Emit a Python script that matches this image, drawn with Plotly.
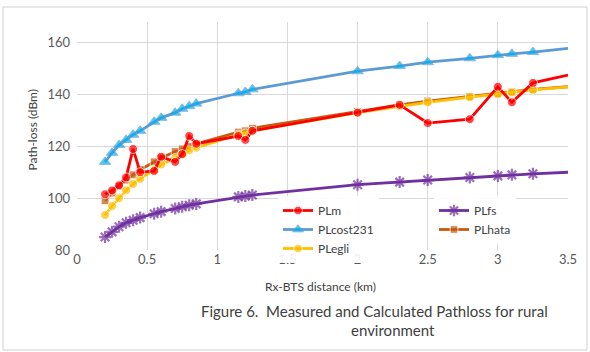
import plotly.graph_objects as go

distance_km = [0.2, 0.25, 0.3, 0.35, 0.4, 0.45, 0.55, 0.6, 0.7, 0.75, 0.8, 0.85,
               1.15, 1.2, 1.25, 2.0, 2.3, 2.5, 2.8, 3.0, 3.1, 3.25, 3.5]

pl_m = [101.5, 103, 105, 108, 119, 110, 110.5, 116, 114, 117, 124, 121,
        124, 122.5, 126, 133, 136, 129, 130.5, 143, 137, 144.5, 147.5]
pl_fs = [85, 87, 89, 90.5, 91.5, 92.5, 94, 94.8, 96, 96.7, 97.3, 97.8,
         100.5, 100.8, 101.2, 105.2, 106.2, 107, 108, 108.6, 109, 109.4, 110]
pl_cost231 = [114, 117.5, 120.5, 122.5, 124.5, 126, 129.5, 131, 133, 134.5, 135.5, 136.5,
              140.5, 141, 142, 149, 151, 152.5, 154, 155.2, 155.7, 156.4, 157.8]
pl_hata = [99, 102, 104.5, 107, 109, 111, 114, 115.5, 118, 119, 120, 121,
           125.5, 126, 127, 133.5, 136, 137.5, 139.3, 140.3, 141, 142, 143]
pl_egli = [93.5, 97, 100, 103, 105.5, 107.5, 111, 113, 115.5, 117, 118.5, 119.5,
           124.5, 125, 126, 133, 135.5, 137, 139, 140.2, 140.8, 141.8, 143]

x_ticks = [0, 0.5, 1, 1.5, 2, 2.5, 3, 3.5]
x_tick_labels = ["0", "0.5", "1", "1.5", "2", "2.5", "3", "3.5"]
y_ticks = [80, 100, 120, 140, 160]

FONT = "Lato"
n = len(distance_km)
msize = lambda s: [s] * (n - 1) + [0]

fig = go.Figure()

def add(name, y, line_color, marker_color, symbol, size, legend, rank, mline=None):
    marker = dict(color=marker_color, symbol=symbol, size=msize(size))
    if mline:
        marker["line"] = mline
    fig.add_trace(go.Scatter(
        x=distance_km, y=y, name=name, mode="lines+markers",
        line=dict(color=line_color, width=2.8),
        marker=marker, legend=legend, legendrank=rank,
    ))

add("PLcost231", pl_cost231, "#5B9BD5", "#00B0F0", "triangle-up", 10, "legend", 2)
add("PLfs", pl_fs, "#7030A0", "#7030A0", "asterisk-open", 10, "legend2", 1,
    mline=dict(color="#7030A0", width=2.2))
add("PLhata", pl_hata, "#C55A11", "#C55A11", "square", 8, "legend2", 2)
add("PLegli", pl_egli, "#FFC000", "#FFC000", "circle", 9, "legend", 3)
add("PLm", pl_m, "#FF0000", "#FF0000", "circle", 9, "legend", 1)

L, R, T, B = 77, 22, 22, 102
PW = 590 - L - R
PH = 352 - T - B
px = lambda v: (v - L) / PW
py = lambda v: (352 - B - v) / PH

legend_common = dict(
    font=dict(family=FONT, size=12, color="#404040"),
    bgcolor="rgba(255,255,255,0.9)", borderwidth=0,
    yanchor="top", xanchor="left", tracegroupgap=0,
    itemwidth=30, traceorder="normal",
)

fig.update_layout(
    width=590, height=352,
    margin=dict(l=L, r=R, t=T, b=B),
    paper_bgcolor="white", plot_bgcolor="white",
    font=dict(family=FONT, color="#595959"),
    legend=dict(x=px(278), y=py(196), **legend_common),
    legend2=dict(x=px(434), y=py(196), **legend_common),
    xaxis=dict(
        range=[0, 3.5], tickvals=x_ticks, ticktext=x_tick_labels,
        showgrid=True, gridcolor="#D9D9D9", gridwidth=1,
        zeroline=False, showline=False, ticks="",
        tickfont=dict(family=FONT, size=13, color="#595959"),
    ),
    yaxis=dict(
        range=[80, 168], tickvals=y_ticks,
        showgrid=True, gridcolor="#D9D9D9", gridwidth=1,
        zeroline=False, showline=False, ticks="",
        tickfont=dict(family=FONT, size=13, color="#595959"),
        ticklabelstandoff=6,
    ),
    showlegend=True,
)

fig.add_annotation(text="Rx-BTS distance (km)", xref="paper", yref="paper",
                   x=px(320), y=py(296), showarrow=False,
                   font=dict(family=FONT, size=12, color="#404040"))
fig.add_annotation(text="Path-loss (dBm)", xref="paper", yref="paper",
                   x=px(22), y=py(130), showarrow=False, textangle=-90,
                   font=dict(family=FONT, size=12, color="#404040"))
fig.add_annotation(text="Figure 6.  Measured and Calculated Pathloss for rural",
                   xref="paper", yref="paper", x=px(199), y=py(322),
                   xanchor="left", showarrow=False,
                   font=dict(family=FONT, size=15, color="#404040"))
fig.add_annotation(text="environment", xref="paper", yref="paper",
                   x=px(393), y=py(341), showarrow=False,
                   font=dict(family=FONT, size=15, color="#404040"))

fig.add_shape(type="rect", xref="paper", yref="paper",
              x0=px(3), x1=px(587), y0=py(350), y1=py(7),
              line=dict(color="#D0D0D0", width=1), layer="below")

fig.write_html("out.html")
